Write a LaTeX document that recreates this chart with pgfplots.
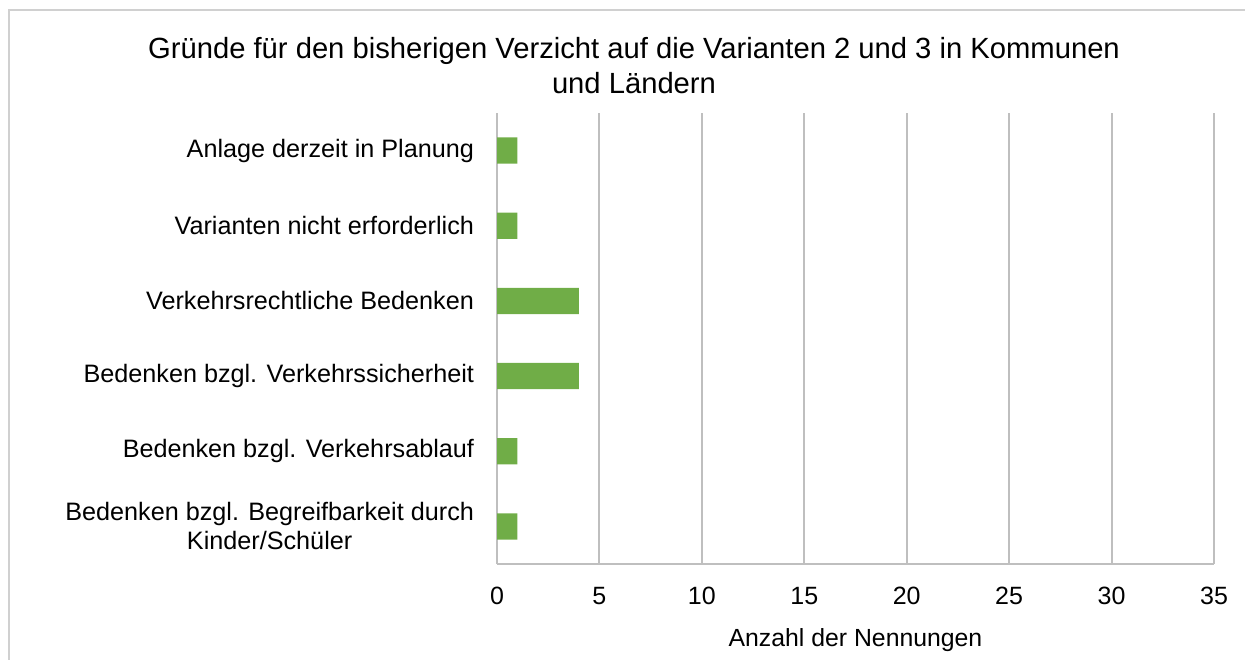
\documentclass[border=0pt]{standalone}
\usepackage{pgfplots}
\pgfplotsset{compat=1.18}
\usepackage{fontspec}
\setmainfont{Liberation Sans}
\definecolor{bargreen}{HTML}{70AD47}
\definecolor{gridgray}{HTML}{BFBFBF}
\definecolor{framegray}{HTML}{D0D0D0}
\begin{document}
\begin{tikzpicture}[x=0.5pt,y=0.5pt]
\useasboundingbox (0,0) rectangle (1245,659);
\draw[framegray, line width=0.75pt] (9,-10) -- (9,649) -- (1260,649);
\node[align=center, font=\fontsize{14.6}{17.5}\selectfont] at (634,593) {Gründe für den bisherigen Verzicht auf die Varianten 2 und 3 in Kommunen\\und Ländern};
\begin{axis}[
  at={(248.5pt,47.5pt)}, anchor=south west,
  scale only axis, width=358.5pt, height=225.5pt,
  xbar, bar width=0.35, bar shift=0pt,
  xmin=0, xmax=35, ymin=-0.5, ymax=5.5,
  xtick={0,5,...,35},
  ytick={0,1,2,3,4,5},
  yticklabels={{Bedenken bzgl. Begreifbarkeit durch\\Kinder/Schüler},{Bedenken bzgl. Verkehrsablauf},{Bedenken bzgl. Verkehrssicherheit},{Verkehrsrechtliche Bedenken},{Varianten nicht erforderlich},{Anlage derzeit in Planung}},
  yticklabel style={align=center, font=\fontsize{12.6}{14.5}\selectfont},
  xticklabel style={font=\fontsize{12.5}{15}\selectfont},
  /pgf/number format/assume math mode=true,
  major tick length=0pt,
  axis x line*=bottom, axis y line*=left,
  axis line style={gridgray, line width=1pt, -},
  xmajorgrids, major grid style={gridgray, line width=1pt},
  ymajorgrids=false,
  xlabel={Anzahl der Nennungen},
  xlabel style={font=\fontsize{12.4}{15}\selectfont, yshift=-5pt},
  yticklabel shift=8pt,
  xticklabel shift=8pt,
]
\addplot[fill=bargreen, draw=none] coordinates {(1,0) (1,1) (4,2) (4,3) (1,4) (1,5)};
\end{axis}
\end{tikzpicture}
\end{document}
